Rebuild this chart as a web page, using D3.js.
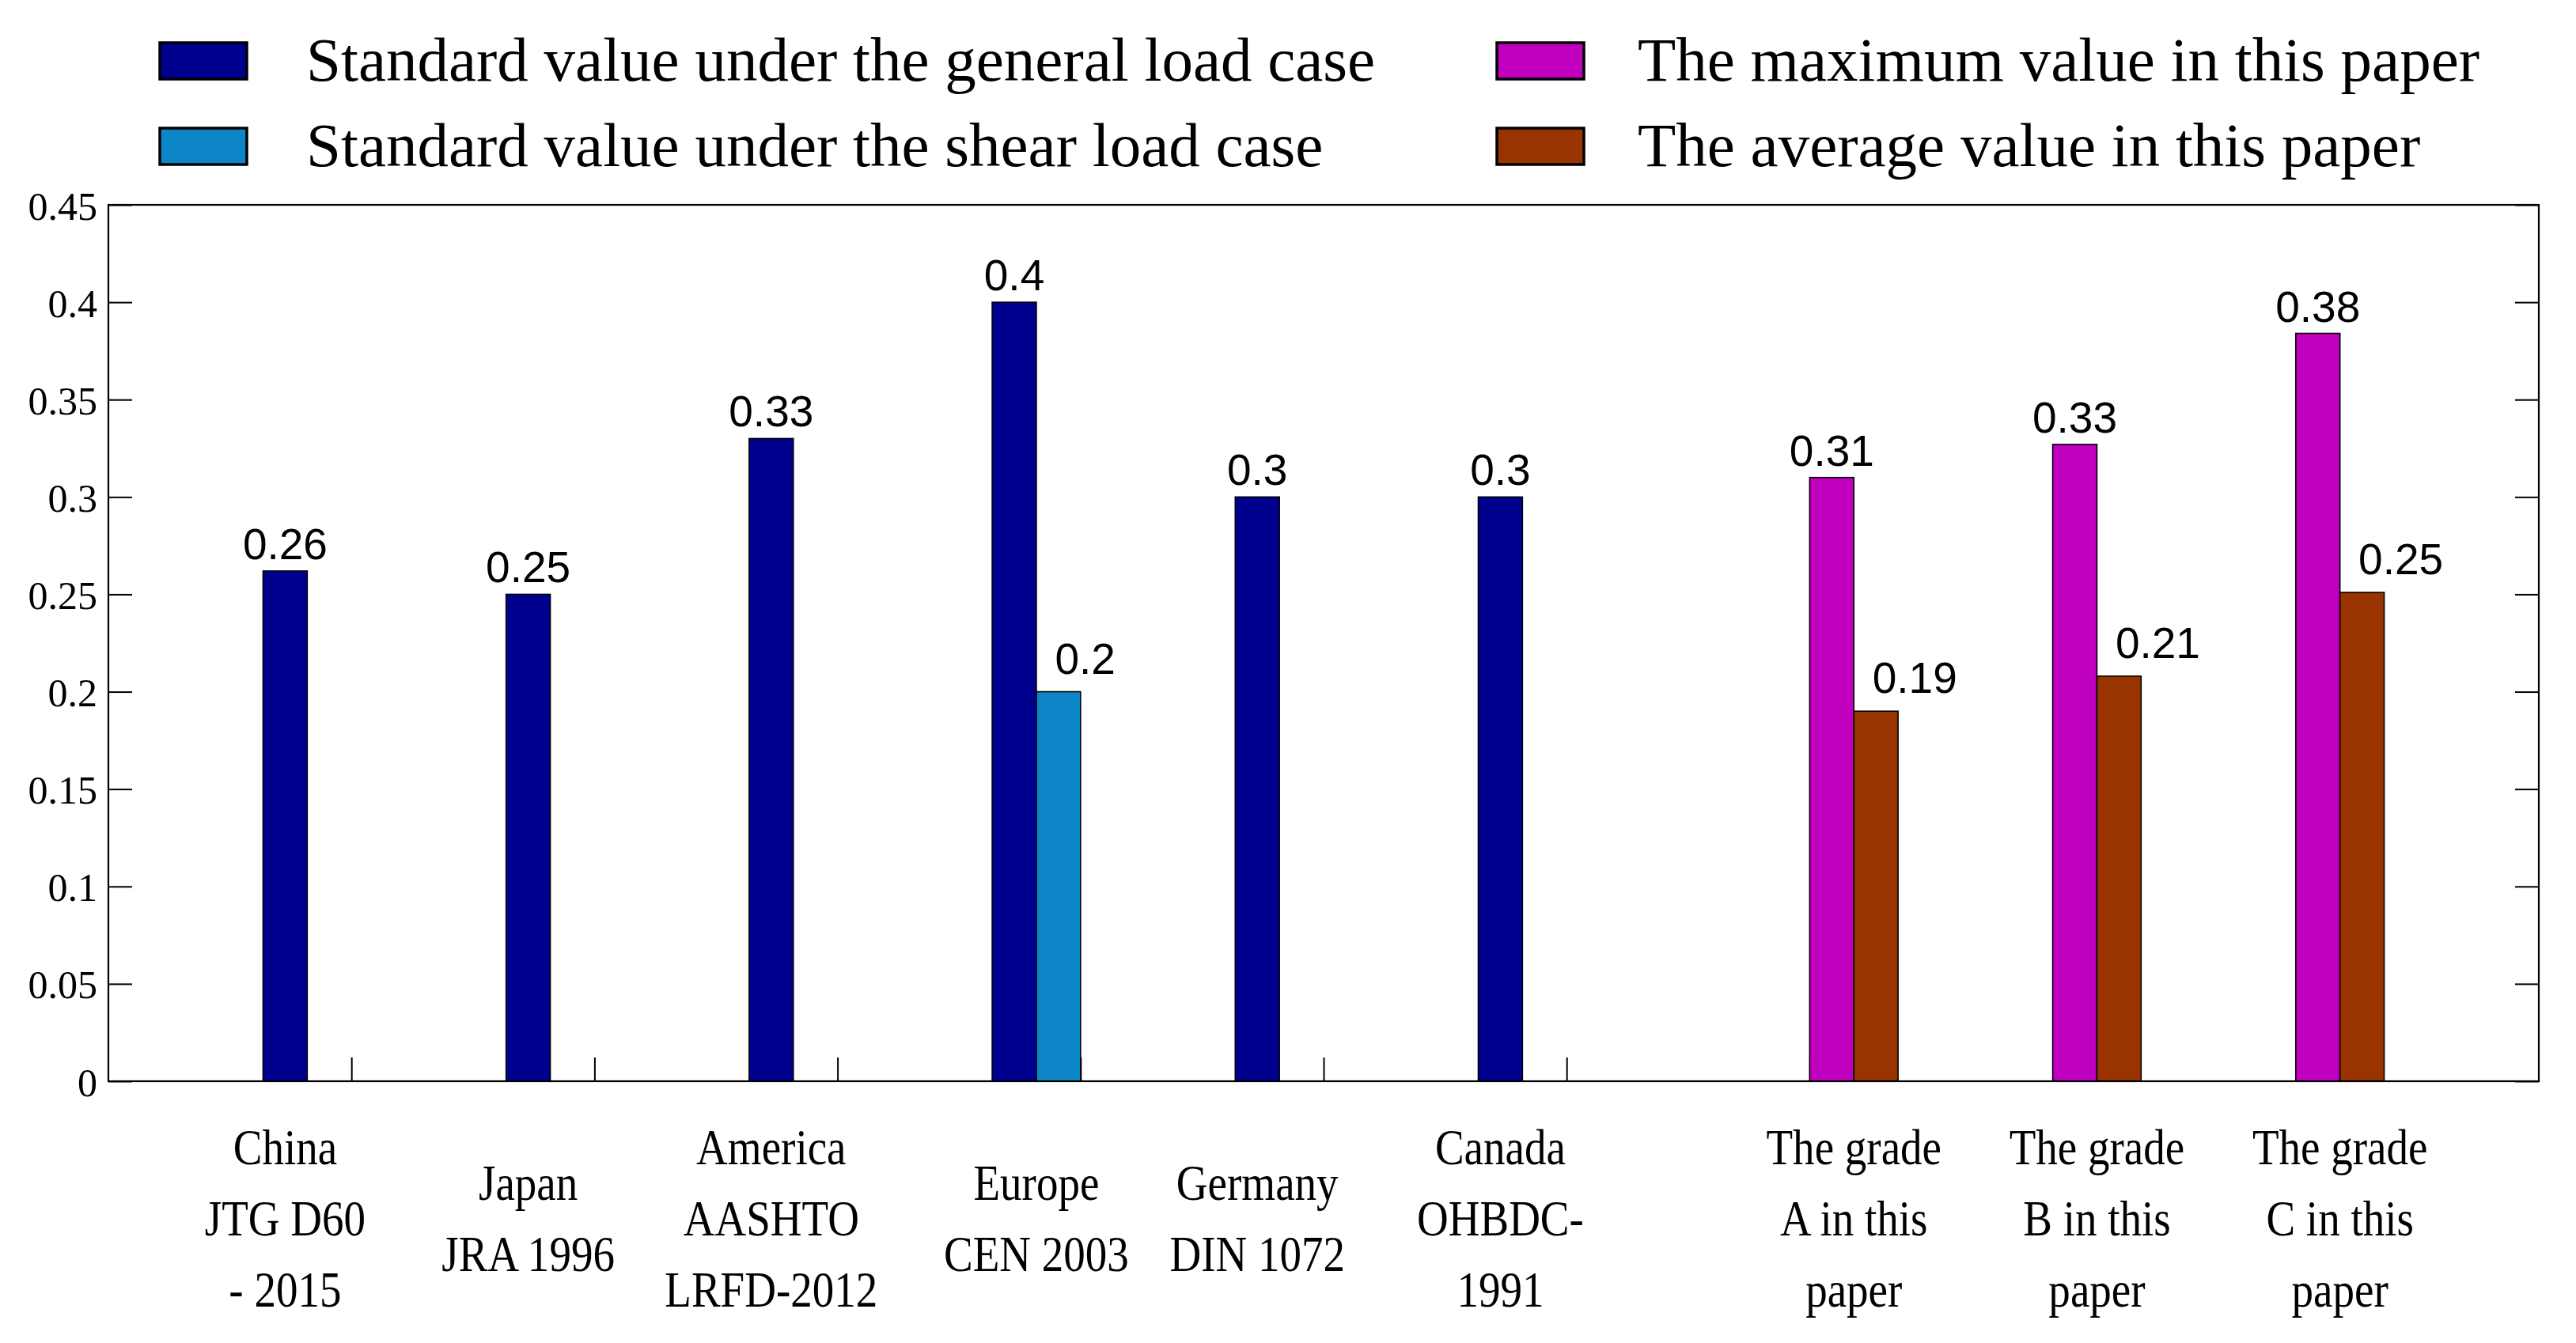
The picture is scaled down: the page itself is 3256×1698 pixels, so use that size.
<!DOCTYPE html>
<html>
<head>
<meta charset="utf-8">
<script src="https://cdn.jsdelivr.net/npm/d3@7"></script>
<style>
  html, body { margin: 0; padding: 0; background: #fff; }
  svg { display: block; }
</style>
</head>
<body>
<script>
// ---------------- data ----------------
const categories = [
  ["China", "JTG D60", "- 2015"],
  ["Japan", "JRA 1996"],
  ["America", "AASHTO", "LRFD-2012"],
  ["Europe", "CEN 2003"],
  ["Germany", "DIN 1072"],
  ["Canada", "OHBDC-", "1991"],
  ["The grade", "A in this", "paper"],
  ["The grade", "B in this", "paper"],
  ["The grade", "C in this", "paper"]
];
const seriesNames = [
  "Standard value under the general load case",
  "Standard value under the shear load case",
  "The maximum value in this paper",
  "The average value in this paper"
];
const generalValues = [0.262, 0.25, 0.33, 0.4, 0.3, 0.3, null, null, null];
const shearValues   = [null, null, null, 0.2, null, null, null, null, null];
const maxValues     = [null, null, null, null, null, null, 0.31, 0.327, 0.384];
const avgValues     = [null, null, null, null, null, null, 0.19, 0.208, 0.251];
const yTicks = [0, 0.05, 0.1, 0.15, 0.2, 0.25, 0.3, 0.35, 0.4, 0.45];
const seriesColors = ["#00008F", "#0C86C6", "#BF00BF", "#993300"];

// ---------------- layout ----------------
const W = 3256, H = 1698;
const plot = { left: 137, right: 3209, top: 259, bottom: 1367 };

const svg = d3.select("body").append("svg")
  .attr("width", W).attr("height", H)
  .attr("viewBox", `0 0 ${W} ${H}`);

svg.append("rect").attr("width", W).attr("height", H).attr("fill", "#fff");

const x = d3.scaleLinear().domain([0, categories.length + 1]).range([plot.left, plot.right]);
const y = d3.scaleLinear().domain([0, 0.45]).range([plot.bottom, plot.top]);

const allSeries = [generalValues, shearValues, maxValues, avgValues].map((vals, i) => ({
  name: seriesNames[i], color: seriesColors[i], values: vals, index: i
}));
const nS = allSeries.length;
const groupWidth = Math.min(0.8, nS / (nS + 1.5));
const barW = groupWidth / nS;
const offset = i => (i - (nS - 1) / 2) * barW;
const fmt = v => String(+(+v).toFixed(2));

// ---------------- axes ----------------
const yAxisL = d3.axisLeft(y).tickValues(yTicks).tickSize(-30).tickPadding(14).tickFormat(fmt);
const gL = svg.append("g").attr("transform", `translate(${plot.left},0)`).call(yAxisL);
gL.select(".domain").remove();
gL.selectAll(".tick line").attr("stroke", "#000").attr("stroke-width", 2);
gL.selectAll(".tick text")
  .attr("font-family", "'Liberation Serif', 'Times New Roman', serif")
  .attr("font-size", 50).attr("fill", "#000").attr("dy", "0.36em");

const yAxisR = d3.axisRight(y).tickValues(yTicks).tickSize(-30).tickFormat("");
const gR = svg.append("g").attr("transform", `translate(${plot.right},0)`).call(yAxisR);
gR.select(".domain").remove();
gR.selectAll(".tick line").attr("stroke", "#000").attr("stroke-width", 2);

const xAxisB = d3.axisBottom(x).tickValues(d3.range(1, categories.length + 1)).tickSize(-30).tickFormat("");
const gB = svg.append("g").attr("transform", `translate(0,${plot.bottom})`).call(xAxisB);
gB.select(".domain").remove();
gB.selectAll(".tick line").attr("stroke", "#000").attr("stroke-width", 2);

// ---------------- bars ----------------
const barsG = svg.append("g");
allSeries.forEach(s => {
  const data = s.values.map((v, j) => ({ v, j })).filter(d => d.v != null);
  barsG.selectAll(null).data(data).enter().append("rect")
    .attr("x", d => x(d.j + 1 + offset(s.index) - barW / 2))
    .attr("width", d => x(barW) - x(0))
    .attr("y", d => y(d.v))
    .attr("height", d => y(0) - y(d.v))
    .attr("fill", s.color)
    .attr("stroke", "#000").attr("stroke-width", 1.6);
});

// plot box
svg.append("rect")
  .attr("x", plot.left).attr("y", plot.top)
  .attr("width", plot.right - plot.left).attr("height", plot.bottom - plot.top)
  .attr("fill", "none").attr("stroke", "#000").attr("stroke-width", 2.2);

// value labels
const labelsG = svg.append("g")
  .attr("font-family", "'Liberation Sans', Arial, sans-serif")
  .attr("font-size", 55).attr("fill", "#000");
allSeries.forEach(s => {
  const data = s.values.map((v, j) => ({ v, j })).filter(d => d.v != null);
  const secondary = (s.index % 2 === 1);
  labelsG.selectAll(null).data(data).enter().append("text")
    .attr("x", d => secondary
      ? x(d.j + 1 + offset(s.index) - barW * 0.08)
      : x(d.j + 1 + offset(s.index)))
    .attr("y", d => y(d.v) - (secondary ? 23 : 15))
    .attr("text-anchor", secondary ? "start" : "middle")
    .text(d => fmt(d.v));
});

// ---------------- category labels ----------------
const lineGap = 90, midBaseline = 1562;
const catG = svg.append("g")
  .attr("font-family", "'Liberation Serif', 'Times New Roman', serif")
  .attr("font-size", 64).attr("fill", "#000");
categories.forEach((lines, j) => {
  const vis = allSeries.filter(s => s.values[j] != null).map(s => j + 1 + offset(s.index));
  const cx = x(d3.mean(vis));
  const t = catG.append("text")
    .attr("transform", `translate(${cx},0) scale(0.86,1)`)
    .attr("text-anchor", "middle");
  lines.forEach((ln, k) => {
    t.append("tspan").attr("x", 0)
      .attr("y", midBaseline + (k - (lines.length - 1) / 2) * lineGap)
      .text(ln);
  });
});

// ---------------- legend ----------------
const legendPos = [
  { sx: 202, tx: 387, cy: 77 },
  { sx: 202, tx: 387, cy: 185 },
  { sx: 1892, tx: 2070, cy: 77 },
  { sx: 1892, tx: 2070, cy: 185 }
];
const legG = svg.append("g");
allSeries.forEach((s, i) => {
  const p = legendPos[i];
  legG.append("rect")
    .attr("x", p.sx).attr("y", p.cy - 23).attr("width", 110).attr("height", 46)
    .attr("fill", s.color).attr("stroke", "#000").attr("stroke-width", 3.5);
  legG.append("text")
    .attr("x", p.tx).attr("y", p.cy + 25)
    .attr("font-family", "'Liberation Serif', 'Times New Roman', serif")
    .attr("font-size", 79).attr("fill", "#000")
    .text(s.name);
});
</script>
</body>
</html>
